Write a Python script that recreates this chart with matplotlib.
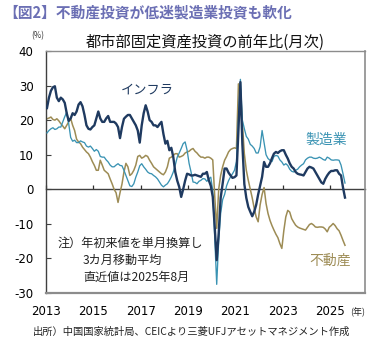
import numpy as np
import matplotlib
matplotlib.use("Agg")
import matplotlib.pyplot as plt

plt.rcParams['font.family'] = ['Noto Sans CJK JP', 'DejaVu Sans']

# ---------------- data (3-month moving average, YoY %, monthly from Jan 2013) ----------------
start_year = 2013

infra = [
    23.5, 26.5, 28.5, 29.5, 29.8, 26.5, 25.5, 26.5, 26.0, 25.0, 22.0, 19.8,   # 2013
    20.5, 22.0, 21.5, 22.5, 24.5, 25.2, 24.0, 21.5, 18.5, 17.5, 17.3, 18.0,   # 2014
    18.5, 20.5, 22.5, 20.5, 19.5, 19.5, 20.5, 21.2, 19.5, 19.5, 19.5, 19.0,   # 2015
    18.0, 14.8, 18.0, 20.4, 21.0, 21.5, 21.5, 20.5, 19.5, 18.5, 17.0, 13.5,   # 2016
    18.5, 22.0, 24.3, 22.5, 20.0, 19.5, 18.5, 18.5, 18.0, 18.8, 19.5, 16.0,   # 2017
    13.2, 14.0, 11.3, 12.0, 9.3, 5.0, 2.5, 0.7, -2.2, 0.0, 2.5, 4.5,          # 2018
    4.3, 4.0, 4.0, 4.2, 4.0, 3.8, 3.6, 4.5, 4.5, 5.0, 2.6, 1.0,               # 2019
    -2.2, -11.0, -20.5, -12.8, -2.5, 1.6, 6.0, 6.0, 4.8, 4.0, 3.3, 3.5,       # 2020
    4.0, 17.0, 31.0, 13.0, 1.5, -2.5, -5.1, -6.5, -7.8, -6.5, -4.5, -1.5,     # 2021
    1.0, 3.6, 7.9, 6.5, 6.5, 7.5, 9.0, 10.3, 10.8, 10.5, 11.0, 11.3,          # 2022
    11.3, 10.0, 8.9, 7.5, 6.5, 6.0, 5.0, 4.5, 4.3, 4.2, 4.0, 5.0,             # 2023
    6.0, 6.5, 6.3, 6.0, 5.0, 4.0, 3.0, 2.0, 1.6, 3.0, 4.0, 4.8,               # 2024
    5.3, 5.3, 5.5, 5.5, 4.5, 4.0, 0.5, -2.4,                                  # 2025
]

manufacturing = [
    16.3, 17.0, 17.5, 17.8, 17.3, 17.5, 18.0, 18.0, 19.5, 21.0, 22.3, 19.0,   # 2013
    15.0, 13.9, 14.2, 13.5, 13.5, 14.0, 13.7, 13.5, 12.5, 12.2, 12.5, 11.8,   # 2014
    11.0, 11.5, 11.0, 9.5, 9.3, 9.3, 8.5, 7.9, 7.0, 6.5, 6.5, 7.0,            # 2015
    7.4, 6.9, 6.8, 5.5, 4.0, 2.5, 1.0, 0.8, 1.6, 3.5, 5.0, 6.8,               # 2016
    7.4, 6.5, 5.8, 5.0, 4.6, 4.5, 4.0, 3.6, 3.0, 2.1, 1.2, 0.7,               # 2017
    1.2, 1.6, 2.5, 3.6, 5.0, 7.0, 9.3, 10.5, 11.8, 13.2, 13.7, 11.3,          # 2018
    7.5, 5.0, 2.1, 2.0, 1.6, 2.3, 2.6, 3.1, 3.0, 2.3, 3.0, 3.5,               # 2019
    -0.5, -14.0, -27.5, -15.0, -7.0, -3.0, -1.5, 1.0, 2.5, 3.6, 4.5, 5.5,     # 2020
    8.0, 20.0, 31.8, 20.0, 17.5, 15.3, 14.5, 13.0, 12.5, 11.8, 10.5, 10.5,    # 2021
    12.3, 17.0, 13.5, 10.0, 8.9, 8.4, 8.0, 9.5, 9.8, 9.6, 8.5, 7.9,           # 2022
    7.0, 7.4, 6.9, 5.8, 5.2, 5.0, 5.5, 5.8, 6.5, 7.0, 7.4, 8.5,               # 2023
    9.0, 9.3, 9.3, 9.0, 8.9, 9.0, 9.3, 9.0, 8.6, 8.4, 9.3, 9.0,               # 2024
    8.5, 8.4, 8.5, 8.5, 8.4, 7.0, 4.5, 1.8,                                   # 2025
]

real_estate = [
    20.4, 20.6, 20.9, 20.2, 20.0, 20.4, 19.8, 19.0, 18.3, 17.5, 18.5, 19.5,   # 2013
    20.5, 18.5, 17.0, 14.5, 13.7, 13.2, 12.2, 11.5, 10.8, 10.3, 9.3, 8.0,     # 2014
    6.9, 5.5, 5.5, 8.4, 7.0, 5.5, 5.0, 4.5, 3.0, 1.6, 0.0, -1.0,              # 2015
    -3.8, -1.0, 1.5, 5.0, 7.5, 6.5, 4.0, 4.5, 5.5, 7.0, 9.5, 9.8,             # 2016
    9.0, 9.3, 9.8, 9.5, 8.4, 7.5, 6.5, 6.0, 5.5, 5.0, 4.5, 4.2,               # 2017
    5.0, 6.5, 9.0, 9.3, 9.8, 10.3, 10.3, 9.3, 9.5, 9.8, 10.5, 10.8,           # 2018
    11.0, 11.5, 11.8, 11.0, 10.5, 9.8, 9.3, 9.3, 9.0, 9.3, 9.3, 9.0,          # 2019
    8.5, -2.0, -11.3, 0.0, 4.0, 6.5, 8.4, 9.5, 10.8, 11.5, 11.8, 12.0,        # 2020
    11.8, 30.5, 29.0, 19.0, 10.3, 5.5, 2.6, 0.0, -2.5, -5.5, -8.0, -9.4,      # 2021
    -4.5, -1.5, 0.5, -4.1, -7.0, -9.0, -10.5, -11.8, -13.0, -14.0, -15.7, -17.1,  # 2022
    -12.0, -8.0, -6.1, -6.6, -8.5, -9.5, -10.4, -10.9, -11.2, -11.4, -11.6, -11.8, # 2023
    -11.0, -10.2, -9.9, -10.3, -10.9, -11.0, -10.9, -10.9, -11.0, -11.5, -12.3, -11.0, # 2024
    -10.5, -9.9, -10.5, -11.4, -12.0, -13.3, -14.8, -16.2,                    # 2025
]

year_ticks = [2013, 2015, 2017, 2019, 2021, 2023, 2025]
y_ticks = [-30, -20, -10, 0, 10, 20, 30, 40]

series_names = ['インフラ', '製造業', '不動産']
header = '【図2】不動産投資が低迷製造業投資も軟化'
title = '都市部固定資産投資の前年比(月次)'
note_lines = ['注）年初来値を単月換算し', '3カ月移動平均', '直近値は2025年8月']
source = '出所）中国国家統計局、CEICより三菱UFJアセットマネジメント作成'

# ---------------- styling ----------------
c_infra = '#1f3a60'
c_mfg = '#3a93b3'
c_re = '#9d8c55'

W, H = 385, 348
fig = plt.figure(figsize=(W / 100, H / 100), dpi=100)
fig.patch.set_facecolor('white')

def fx(px):
    return px / W

def fy(py):
    return 1 - py / H

ax = fig.add_axes([fx(46), fy(293), fx(365) - fx(46), fy(51) - fy(293)])

n = len(infra)
x = start_year + (np.arange(n) + 0.5) / 12.0

ax.plot(x, real_estate, color=c_re, lw=1.1, zorder=2)
ax.plot(x, manufacturing, color=c_mfg, lw=0.95, zorder=3)
ax.plot(x, infra, color=c_infra, lw=1.7, zorder=4)

ax.set_xlim(2013, 2026.47)
ax.set_ylim(-30, 40)
ax.set_yticks(y_ticks)
ax.set_yticklabels([str(v) for v in y_ticks], family='DejaVu Sans', fontsize=8.5)
ax.set_xticks(year_ticks)
ax.set_xticklabels([str(v) for v in year_ticks], family='DejaVu Sans', fontsize=8.5)
ax.tick_params(axis='x', length=0, pad=8.5)
ax.tick_params(axis='y', direction='in', length=3.5, width=0.8, color='#404040', pad=9.0)

for s in ['top', 'right', 'bottom']:
    ax.spines[s].set_color('#8c8c8c')
    ax.spines[s].set_linewidth(1.0)
ax.spines['bottom'].set_linewidth(1.6)
ax.spines['right'].set_linewidth(1.2)
ax.spines['left'].set_color('#404040')
ax.spines['left'].set_linewidth(1.0)

# zero axis with tick marks
zero_pos = (0 - (-30)) / (40 - (-30))
sec = ax.secondary_xaxis(zero_pos)
sec.set_xticks(year_ticks)
sec.tick_params(axis='x', direction='in', length=3, width=0.9, color='#303030',
                labelbottom=False, labeltop=False)
sec.spines['bottom'].set_color('#404040')
sec.spines['bottom'].set_linewidth(1.0)
sec.spines['top'].set_visible(False)

# series labels
fig.text(fx(147), fy(90), series_names[0], color=c_infra, fontsize=9.5,
         ha='center', va='center')
fig.text(fx(326), fy(140), series_names[1], color=c_mfg, fontsize=10,
         ha='center', va='center')
fig.text(fx(330), fy(261), series_names[2], color=c_re, fontsize=10,
         ha='center', va='center')

# note
fig.text(fx(58), fy(243), note_lines[0], color='#222222', fontsize=8.7, ha='left', va='center')
fig.text(fx(83), fy(260), note_lines[1], color='#222222', fontsize=8.7, ha='left', va='center')
fig.text(fx(83), fy(277), note_lines[2], color='#222222', fontsize=8.7, ha='left', va='center')

# texts outside
fig.text(fx(3), fy(12.5), header, color='#6b6fb4', fontsize=10.6, fontweight='bold',
         ha='left', va='center')
fig.text(fx(205), fy(42), title, color='#111111', fontsize=11, ha='center', va='center')
fig.text(fx(38), fy(36), '(%)', color='#333333', fontsize=5.8, ha='center', va='center')
fig.text(fx(358), fy(312), '(年)', color='#222222', fontsize=6.5, ha='center', va='center')
fig.text(fx(33), fy(332), source, color='#222222', fontsize=7.4, ha='left', va='center')

fig.savefig('out.png', dpi=100, facecolor='white')
